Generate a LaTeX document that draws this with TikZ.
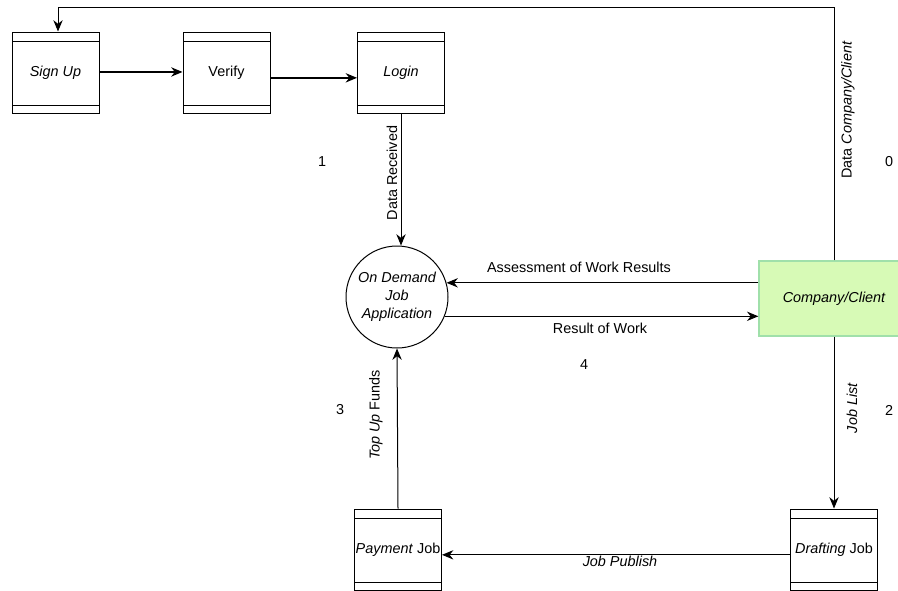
\documentclass[tikz,border=0pt]{standalone}
\usepackage{fontspec}
\setmainfont{Liberation Sans}
\usetikzlibrary{arrows.meta}
\definecolor{clientfill}{RGB}{215,250,182}
\definecolor{clientline}{RGB}{160,224,170}
\tikzset{
  jobbox/.style={draw, line width=0.75pt, minimum width=65.25pt, minimum height=60.75pt, inner sep=0pt,
    path picture={
      \draw[line width=0.75pt] ([yshift=-6.75pt]path picture bounding box.north west) -- ([yshift=-6.75pt]path picture bounding box.north east);
      \draw[line width=0.75pt] ([yshift=6pt]path picture bounding box.south west) -- ([yshift=6pt]path picture bounding box.south east);
    }},
  flow/.style={draw, line width=0.75pt, -{Stealth[length=8.5pt,width=7pt]}},
  lbl/.style={inner sep=0.75pt},
}
\begin{document}
\begin{tikzpicture}[x=0.75pt,y=0.75pt,yscale=-1,xscale=1,font=\fontsize{10.8}{12.5}\selectfont]
\path[use as bounding box, clip] (0,0) rectangle (898,590);
% boxes
\node[jobbox] (signup) at (55.5,72.5) {\textit{Sign Up}};
\node[jobbox] (verify) at (226.5,72.5) {Verify};
\node[jobbox] (login) at (401,72.5) {\textit{Login}};
\node[jobbox] (payment) at (398,549.5) {\textit{Payment} Job};
\node[jobbox] (drafting) at (834,549.5) {\textit{Drafting} Job};
% process and client
\node[draw, line width=0.75pt, circle, minimum size=76.5pt, inner sep=0pt, align=center, font=\fontsize{10.8}{13.5}\selectfont\itshape] (app) at (397,297) {On Demand\\Job\\Application};
\node[draw=clientline, line width=1pt, fill=clientfill, minimum width=112.5pt, minimum height=56.25pt, font=\fontsize{10.8}{12.5}\selectfont\itshape] (company) at (834,298.5) {Company/Client};
\coordinate (topleft) at (58,7);
% flows
\draw[flow, line width=1pt] ([yshift=-0.4pt]signup.east) -- ([yshift=-0.4pt]verify.west);
\draw[flow, line width=1pt] ([yshift=4pt]verify.east) -- ([yshift=4pt]login.west);
\draw[flow] (login.south) -- (login.south |- app.north);
\draw[flow] (company.west |- app.16) -- (app.16);
\draw[flow] (app.-22) -- (company.west |- app.-22);
\draw[flow] (company.south) -- (drafting.north);
\draw[flow] ([yshift=4pt]drafting.west) -- ([yshift=4pt]payment.east);
\draw[flow] (payment.north) -- (app.south);
\draw[flow] (company.north) |- (topleft) -- (signup.north -| topleft);
% flow labels
\node[lbl, rotate=90] (received) at (392,173) {Data Received};
\node[lbl, rotate=90] (dataclient) at (848,110) {Data \textit{Company/Client}};
\node[lbl] (assess) at (579,267) {Assessment of Work Results};
\node[lbl] (result) at (600,328) {Result of Work};
\node[lbl, rotate=90] (joblist) at (852,408) {\textit{Job List}};
\node[lbl, rotate=90] (topup) at (376,415) {\textit{Top Up} Funds};
\node[lbl] (publish) at (620,561) {\textit{Job Publish}};
% numbers
\node[lbl] (n1) at (322,162) {1};
\node[lbl] (n0) at (889,162) {0};
\node[lbl] (n4) at (584,365) {4};
\node[lbl] (n3) at (340,410) {3};
\node[lbl] (n2) at (889,410) {2};
\end{tikzpicture}
\end{document}
